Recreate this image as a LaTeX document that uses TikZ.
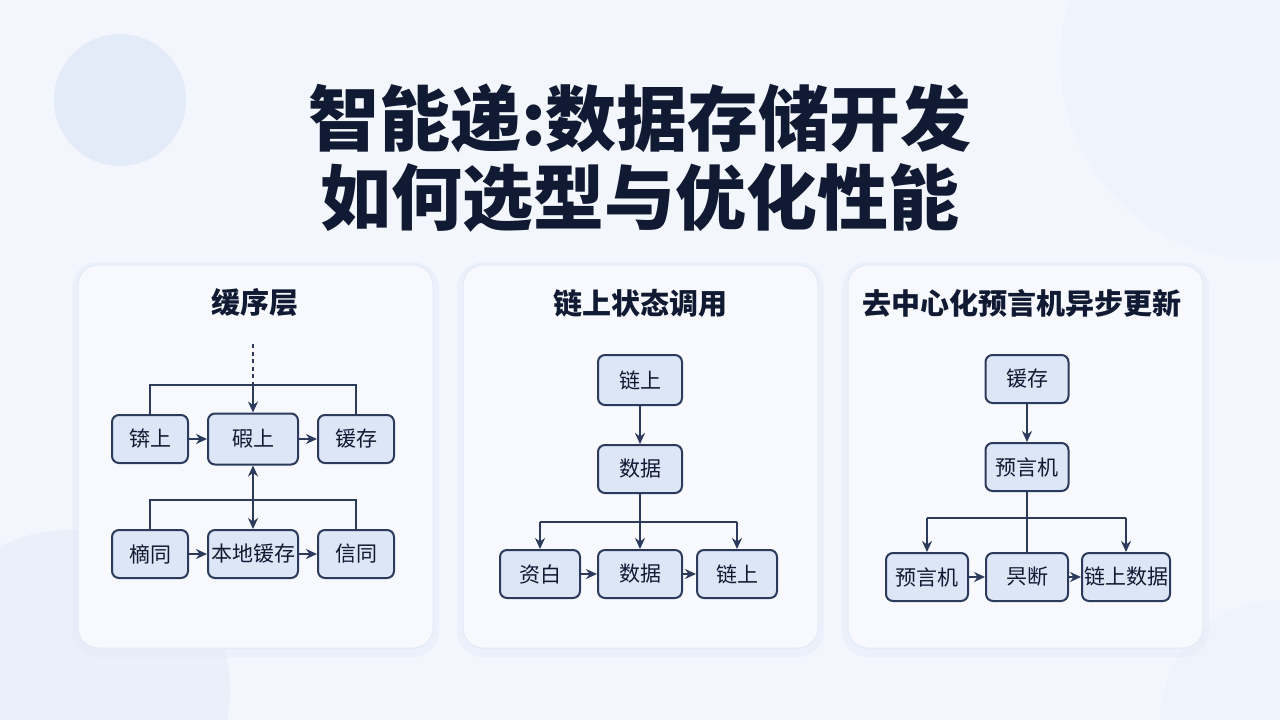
\documentclass[tikz,border=0pt]{standalone}
\usepackage{fontspec}
\setmainfont{Noto Sans CJK SC}
\usetikzlibrary{arrows.meta,positioning}
\definecolor{cnavy}{HTML}{111A33}
\definecolor{cline}{HTML}{2C3A5C}
\definecolor{cfill}{HTML}{DCE6F7}
\definecolor{cbg}{HTML}{F3F6FC}
\definecolor{cblob}{HTML}{E3EAF8}
\definecolor{ccard}{HTML}{F7F9FE}
\definecolor{cedge}{HTML}{E3E9F6}
\tikzset{
  box/.style={draw=cline,fill=cfill,rounded corners=7pt,line width=2pt,minimum height=48pt,minimum width=78pt,inner xsep=2pt,font=\fontsize{21}{21}\selectfont,text=cnavy},
  card/.style={fill=ccard,draw=cedge,rounded corners=20pt,line width=1pt},
  glow/.style={fill=cblob,rounded corners=26pt,opacity=0.45},
  ttl/.style={font=\fontsize{29}{29}\selectfont\bfseries,text=cnavy},
  big/.style={font=\fontsize{71}{71}\selectfont\bfseries,text=cnavy},
  arr/.style={-{Stealth[length=11pt,width=10pt]},line width=2.3pt,draw=cline},
  darr/.style={{Stealth[length=11pt,width=10pt]}-{Stealth[length=11pt,width=10pt]},line width=2.3pt,draw=cline},
  ln/.style={line width=2.3pt,draw=cline},
  dots/.style={line width=2.6pt,draw=cline,dash pattern=on 4pt off 3.5pt},
}

\begin{document}
\begin{tikzpicture}[x=1pt,y=-1pt]
  \useasboundingbox (0,0) rectangle (1280,720);
  % background
  \fill[cbg] (0,0) rectangle (1280,720);
  \fill[cblob] (120,100) circle (66);
  \fill[cblob,opacity=0.5] (70,690) circle (160);
  \fill[cblob,opacity=0.2] (1260,60) circle (200);
  \fill[cblob,opacity=0.2] (1280,720) circle (120);

  % title
  \node[big] (title1) at (640,118) {智能递:数据存储开发};
  \node[big] (title2) at (640,198) {如何选型与优化性能};

  % cards
  \foreach \x in {78,463,848} {
    \fill[glow] (\x-6,262) rectangle (\x+361,657);
    \draw[card] (\x,265) rectangle (\x+355,648);
  }

  % panel 1
  \node[ttl] (t1) at (255,303) {缓序层};
  \node[box,minimum width=76pt] (a1) at (150,439) {锛上};
  \node[box,minimum width=90pt,minimum height=51pt] (a2) at (253,439) {碬上};
  \node[box,minimum width=76pt] (a3) at (356,439) {锾存};
  \node[box,minimum width=76pt] (b1) at (150,554) {樀同};
  \node[box,minimum width=90pt] (b2) at (253,554) {本地锾存};
  \node[box,minimum width=76pt] (b3) at (356,554) {信同};
  \coordinate (src) at (253,344);
  \coordinate (j1) at (253,385);
  \coordinate (j2) at (253,500);
  \draw[dots] (src) -- (j1);
  \draw[arr] (j1) -- (a2.north);
  \draw[ln] (a1.north) -- (a1.north |- j1) -| (a3.north);
  \draw[arr] (a1) -- (a2);
  \draw[arr] (a2) -- (a3);
  \draw[darr] (a2.south) -- (b2.north);
  \draw[ln] (b1.north) -- (b1.north |- j2) -| (b3.north);
  \draw[arr] (b1) -- (b2);
  \draw[arr] (b2) -- (b3);

  % panel 2
  \node[ttl] (t2) at (640,303) {链上状态调用};
  \node[box,minimum width=84pt,minimum height=50pt] (c1) at (640,380) {链上};
  \node[box,minimum width=84pt] (c2) at (640,469) {数据};
  \node[box,minimum width=80pt] (d1) at (540,574) {资白};
  \node[box,minimum width=84pt] (d2) at (640,574) {数据};
  \node[box,minimum width=80pt] (d3) at (737,574) {链上};
  \coordinate (j3) at (640,522);
  \draw[arr] (c1) -- (c2);
  \draw[arr] (c2) -- (d2);
  \draw[ln] (d1.north |- j3) -- (d3.north |- j3);
  \draw[arr] (d1.north |- j3) -- (d1.north);
  \draw[arr] (d3.north |- j3) -- (d3.north);
  \draw[arr] (d1) -- (d2);
  \draw[arr] (d2) -- (d3);

  % panel 3
  \node[ttl] (t3) at (1022,303) {去中心化预言机异步更新};
  \node[box,minimum width=83pt] (e1) at (1027,379) {锾存};
  \node[box,minimum width=83pt] (e2) at (1027,467) {预言机};
  \node[box,minimum width=82pt] (f1) at (927,577) {预言机};
  \node[box,minimum width=82pt] (f2) at (1027,577) {昗断};
  \node[box,minimum width=82pt] (f3) at (1126,577) {链上数据};
  \coordinate (j4) at (1027,518);
  \draw[arr] (e1) -- (e2);
  \draw[ln] (e2) -- (f2);
  \draw[ln] (f1.north |- j4) -- (f3.north |- j4);
  \draw[arr] (f1.north |- j4) -- (f1.north);
  \draw[arr] (f3.north |- j4) -- (f3.north);
  \draw[arr] (f1) -- (f2);
  \draw[arr] (f2) -- (f3);
\end{tikzpicture}
\end{document}
